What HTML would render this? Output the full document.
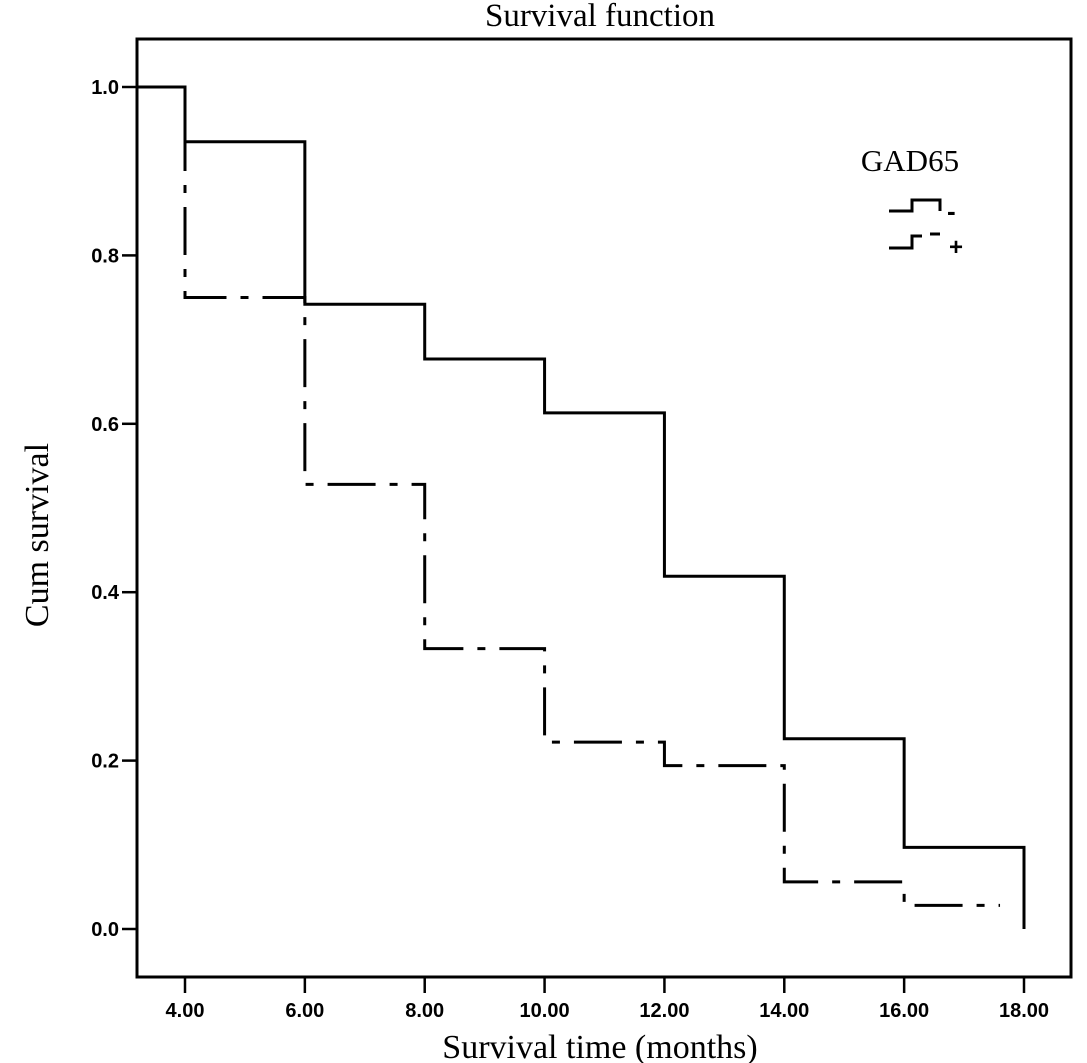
<!DOCTYPE html>
<html><head><meta charset="utf-8"><style>
html,body{margin:0;padding:0;background:#fff;}
svg{display:block;}
</style></head><body>
<svg id="chart" width="1087" height="1063" viewBox="0 0 1087 1063" xmlns="http://www.w3.org/2000/svg">
<text x="600" y="26" text-anchor="middle" font-family="Liberation Serif, serif" font-size="33">Survival function</text>
<rect x="137" y="39" width="934" height="938" fill="none" stroke="#000" stroke-width="3"/>
<g id="yticks"></g><g id="xticks"></g>
<g id="series"></g>
<text transform="translate(48,535) rotate(-90)" text-anchor="middle" font-family="Liberation Serif, serif" font-size="34">Cum survival</text>
<text x="600" y="1058" text-anchor="middle" font-family="Liberation Serif, serif" font-size="34">Survival time (months)</text>
<g>
<text x="910" y="171" text-anchor="middle" font-family="Liberation Serif, serif" font-size="31">GAD65</text>
<path d="M889 211 H912 V200 H940 V211" fill="none" stroke="#000" stroke-width="3"/>
<text x="947" y="220" font-family="Liberation Sans, sans-serif" font-weight="bold" font-size="26">-</text>
<path d="M889 248 H912 V236 H922 M930 234 H940" fill="none" stroke="#000" stroke-width="3"/>
<text x="949" y="255" font-family="Liberation Sans, sans-serif" font-weight="bold" font-size="24">+</text>
</g>
</svg>
<script>
const xTicks = [4,6,8,10,12,14,16,18];
const yTicks = [0,0.2,0.4,0.6,0.8,1.0];
const negTimes = [0,4,6,8,10,12,14,16,18];
const negSurv = [1.0,0.935,0.742,0.677,0.613,0.419,0.226,0.097,0.0];
const posTimes = [0,4,6,8,10,12,14,16,17.6];
const posSurv = [1.0,0.75,0.528,0.333,0.222,0.194,0.056,0.028,0.028];
const NS='http://www.w3.org/2000/svg';
function sx(v){return 185+(v-4)*(1024-185)/14;}
function sy(v){return 929-v*842;}
function mk(t,a,p){const e=document.createElementNS(NS,t);for(const k in a)e.setAttribute(k,a[k]);p.appendChild(e);return e;}
const yg=document.getElementById('yticks'), xg=document.getElementById('xticks'), sg=document.getElementById('series');
yTicks.forEach(v=>{
 const l=mk('line',{x1:122,x2:137,y1:sy(v),y2:sy(v),stroke:'#000','stroke-width':2.5},yg);
 
 
 const t=mk('text',{x:119,y:sy(v)+7,'text-anchor':'end','font-family':'Liberation Sans, sans-serif','font-size':20,'font-weight':600},yg);
 t.textContent=v.toFixed(1);
 
 
});
xTicks.forEach(v=>{
 const l=mk('line',{x1:sx(v),x2:sx(v),y1:977,y2:993,stroke:'#000','stroke-width':2.5},xg);
 
 
 const t=mk('text',{x:sx(v),y:1017,'text-anchor':'middle','font-family':'Liberation Sans, sans-serif','font-size':20,'font-weight':600},xg);
 t.textContent=v.toFixed(2);
 
 
});
function stepPath(ts,ss,dropLast){
 let d='M'+137+' '+sy(ss[0]);
 for(let i=1;i<ts.length;i++){
  d+=' H'+sx(ts[i]);
  if(i<ts.length-1) d+=' V'+sy(ss[i]);
 }
 if(dropLast) d+=' V'+sy(ss[ss.length-1]);
 return d;
}
const neg=mk('path',{d:stepPath(negTimes,negSurv,true),fill:'none',stroke:'#000','stroke-width':3},sg);


const pos=mk('path',{d:stepPath(posTimes,posSurv,false),fill:'none',stroke:'#000','stroke-width':3,'stroke-dasharray':'48 14 8 14'},sg);


</script>
</body></html>
